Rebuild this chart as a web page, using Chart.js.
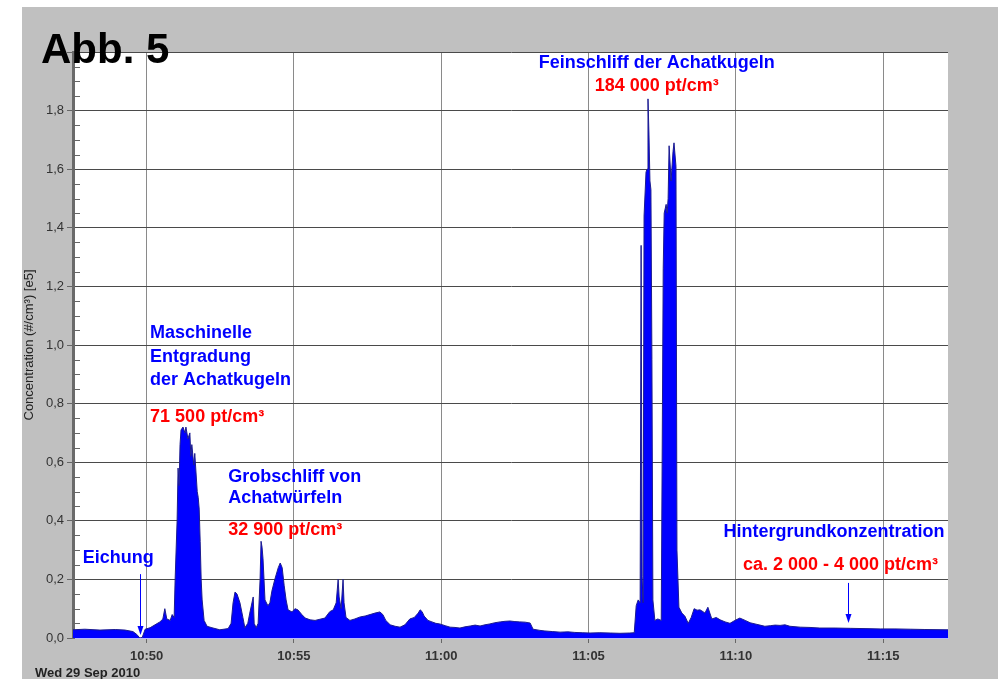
<!DOCTYPE html>
<html>
<head>
<meta charset="utf-8">
<script src="https://cdn.jsdelivr.net/npm/chart.js@4/dist/chart.umd.min.js"></script>
<style>
html, body { margin: 0; padding: 0; background: #fff; }
</style>
</head>
<body>
<canvas id="chart" width="998" height="679"></canvas>
<script>
// recording starts at 10:47:30, offsets in seconds
const startTime = "10:47:30";

const offsets = [
  0, 24, 55, 86, 106, 122, 130, 136, 141, 147, 157, 167, 177, 183, 187, 191, 198, 202, 206, 208,
  212, 214, 216, 218, 220, 224, 228, 230, 234, 238, 240, 242, 246, 248, 253, 255, 257, 259, 261, 263,
  267, 273, 283, 299, 316, 322, 326, 330, 334, 340, 346, 350, 356, 360, 367, 369, 373, 377, 381, 383,
  385, 387, 391, 397, 401, 405, 411, 418, 422, 426, 430, 434, 438, 446, 452, 458, 466, 473, 483, 493,
  503, 513, 523, 530, 536, 540, 542, 546, 550, 552, 556, 564, 574, 585, 595, 605, 615, 625, 631, 637,
  646, 656, 666, 676, 686, 695, 703, 707, 711, 715, 723, 731, 739, 747, 758, 768, 778, 788, 798, 809,
  819, 829, 839, 849, 859, 870, 880, 890, 900, 910, 921, 931, 937, 951, 961, 976, 992, 1008, 1022, 1037,
  1053, 1073, 1094, 1114, 1134, 1143, 1147, 1151, 1155, 1157, 1159, 1161, 1163, 1167, 1169, 1171, 1173, 1175, 1177, 1179,
  1181, 1185, 1191, 1198, 1202, 1204, 1208, 1210, 1212, 1214, 1218, 1222, 1224, 1228, 1230, 1234, 1240, 1246, 1253, 1259,
  1265, 1271, 1277, 1283, 1287, 1293, 1297, 1301, 1310, 1318, 1328, 1338, 1348, 1358, 1369, 1379, 1389, 1399, 1409, 1420,
  1430, 1440, 1450, 1460, 1481, 1501, 1521, 1552, 1583, 1613, 1644, 1674, 1705, 1735, 1782
];

// concentration in 1e5 particles per cm3
const conc = [
  0.028, 0.030, 0.027, 0.029, 0.027, 0.022, 0.012, 0.000, 0.002, 0.030, 0.035, 0.045, 0.055, 0.065, 0.100, 0.065, 0.060, 0.080, 0.070, 0.200,
  0.400, 0.580, 0.520, 0.660, 0.710, 0.720, 0.700, 0.720, 0.680, 0.700, 0.620, 0.660, 0.590, 0.630, 0.500, 0.480, 0.440, 0.330, 0.200, 0.130,
  0.060, 0.040, 0.035, 0.028, 0.032, 0.050, 0.120, 0.157, 0.150, 0.120, 0.070, 0.035, 0.050, 0.085, 0.140, 0.050, 0.035, 0.050, 0.200, 0.330,
  0.310, 0.270, 0.130, 0.110, 0.120, 0.160, 0.200, 0.240, 0.256, 0.240, 0.180, 0.130, 0.096, 0.089, 0.100, 0.096, 0.080, 0.068, 0.062, 0.060,
  0.064, 0.068, 0.090, 0.096, 0.120, 0.200, 0.140, 0.100, 0.200, 0.120, 0.070, 0.060, 0.065, 0.072, 0.075, 0.080, 0.085, 0.089, 0.080, 0.060,
  0.045, 0.040, 0.037, 0.045, 0.065, 0.070, 0.085, 0.096, 0.090, 0.075, 0.060, 0.055, 0.050, 0.048, 0.042, 0.037, 0.036, 0.034, 0.038, 0.041,
  0.044, 0.041, 0.045, 0.048, 0.052, 0.055, 0.057, 0.058, 0.056, 0.055, 0.054, 0.051, 0.030, 0.026, 0.024, 0.022, 0.020, 0.021, 0.019, 0.018,
  0.017, 0.018, 0.017, 0.016, 0.017, 0.018, 0.110, 0.130, 0.120, 1.340, 0.210, 0.120, 1.440, 1.590, 1.600, 1.840, 1.720, 1.560, 1.530, 0.950,
  0.130, 0.060, 0.065, 0.060, 1.260, 1.450, 1.480, 1.450, 1.500, 1.680, 1.560, 1.660, 1.690, 1.610, 0.300, 0.105, 0.085, 0.075, 0.050, 0.070,
  0.100, 0.095, 0.096, 0.090, 0.085, 0.105, 0.085, 0.065, 0.070, 0.062, 0.055, 0.050, 0.060, 0.068, 0.060, 0.052, 0.048, 0.044, 0.040, 0.042,
  0.044, 0.043, 0.045, 0.040, 0.037, 0.036, 0.034, 0.034, 0.033, 0.032, 0.031, 0.031, 0.030, 0.029, 0.028
];

const yTicks = [0, 0.2, 0.4, 0.6, 0.8, 1.0, 1.2, 1.4, 1.6, 1.8];

// text notes: t = seconds after start, v = value on the y axis
const notes = [
  { text: "Feinschliff der Achatkugeln", t: 1189, v: 1.962, color: "#0000ff", align: "center" },
  { text: "184 000 pt/cm³", t: 1189, v: 1.885, color: "#ff0000", align: "center" },
  { text: "Maschinelle", t: 157, v: 1.041, color: "#0000ff", align: "left" },
  { text: "Entgradung", t: 157, v: 0.959, color: "#0000ff", align: "left" },
  { text: "der Achatkugeln", t: 157, v: 0.881, color: "#0000ff", align: "left" },
  { text: "71 500 pt/cm³", t: 157, v: 0.754, color: "#ff0000", align: "left" },
  { text: "Grobschliff von", t: 316, v: 0.549, color: "#0000ff", align: "left" },
  { text: "Achatwürfeln", t: 316, v: 0.478, color: "#0000ff", align: "left" },
  { text: "32 900 pt/cm³", t: 316, v: 0.369, color: "#ff0000", align: "left" },
  { text: "Eichung", t: 20, v: 0.273, color: "#0000ff", align: "left" },
  { text: "Hintergrundkonzentration", t: 1550, v: 0.362, color: "#0000ff", align: "center" },
  { text: "ca. 2 000 - 4 000 pt/cm³", t: 1563, v: 0.249, color: "#ff0000", align: "center" }
];

const arrows = [
  { t: 136, from: 0.218, to: 0.010 },
  { t: 1578, from: 0.188, to: 0.051 }
];

const FONT = "'Liberation Sans', Arial, sans-serif";

function toSec(s) {
  const p = s.split(":").map(Number);
  return p[0] * 3600 + p[1] * 60 + p[2];
}
const startSec = toSec(startTime);

function hhmm(sec) {
  const h = Math.floor(sec / 3600);
  const m = Math.round((sec - h * 3600) / 60);
  return h + ":" + String(m).padStart(2, "0");
}

const decorations = {
  id: "decorations",
  beforeDraw(chart) {
    const ctx = chart.ctx, a = chart.chartArea;
    ctx.save();
    ctx.fillStyle = "#ffffff";
    ctx.fillRect(0, 0, chart.width, chart.height);
    ctx.fillStyle = "#c0c0c0";
    ctx.fillRect(22, 7, chart.width - 22, chart.height - 7);
    ctx.fillStyle = "#ffffff";
    ctx.fillRect(a.left, a.top, a.right - a.left, a.bottom - a.top);
    ctx.restore();
  },
  afterDraw(chart) {
    const ctx = chart.ctx, a = chart.chartArea;
    const xs = chart.scales.x, ys = chart.scales.y;
    ctx.save();

    // minor ticks inside the left edge
    ctx.strokeStyle = "#666";
    ctx.lineWidth = 1;
    for (let k = 1; k < 40; k++) {
      if (k % 4 === 0) continue;
      const py = Math.round(ys.getPixelForValue(k * 0.05)) + 0.5;
      ctx.beginPath();
      ctx.moveTo(a.left, py);
      ctx.lineTo(a.left + 7, py);
      ctx.stroke();
    }

    // notes
    ctx.font = "bold 18px " + FONT;
    ctx.textBaseline = "middle";
    notes.forEach(n => {
      ctx.fillStyle = n.color;
      ctx.textAlign = n.align;
      ctx.fillText(n.text, xs.getPixelForValue(startSec + n.t), ys.getPixelForValue(n.v));
    });

    // arrows
    ctx.strokeStyle = "#0000ff";
    ctx.fillStyle = "#0000ff";
    arrows.forEach(ar => {
      const px = Math.round(xs.getPixelForValue(startSec + ar.t)) + 0.5;
      const y0 = ys.getPixelForValue(ar.from), y1 = ys.getPixelForValue(ar.to);
      ctx.beginPath();
      ctx.moveTo(px, y0);
      ctx.lineTo(px, y1 - 6);
      ctx.stroke();
      ctx.beginPath();
      ctx.moveTo(px - 3, y1 - 9);
      ctx.lineTo(px + 3, y1 - 9);
      ctx.lineTo(px, y1);
      ctx.closePath();
      ctx.fill();
    });

    // figure label and date
    ctx.fillStyle = "#000";
    ctx.textAlign = "left";
    ctx.textBaseline = "alphabetic";
    ctx.font = "bold 42px " + FONT;
    ctx.fillText("Abb. 5", 41, 63);
    ctx.fillStyle = "#222";
    ctx.font = "bold 13px " + FONT;
    ctx.fillText("Wed 29 Sep 2010", 35, 677);
    ctx.restore();
  }
};

new Chart(document.getElementById("chart"), {
  type: "line",
  data: {
    datasets: [{
      data: offsets.map((o, i) => ({ x: startSec + o, y: conc[i] })),
      borderColor: "#1c1c90",
      borderWidth: 1,
      backgroundColor: "#0000ff",
      fill: "origin",
      pointRadius: 0,
      tension: 0
    }]
  },
  options: {
    responsive: false,
    animation: false,
    layout: { padding: { left: 20, top: 52, right: 50, bottom: 0 } },
    plugins: { legend: { display: false }, tooltip: { enabled: false } },
    scales: {
      x: {
        type: "linear",
        min: startSec,
        max: startSec + 1782,
        afterFit: s => { s.height = 41; },
        afterBuildTicks: s => {
          s.ticks = [];
          for (let v = 39000; v < s.max; v += 300) s.ticks.push({ value: v });
        },
        ticks: {
          autoSkip: false, maxRotation: 0, padding: 6,
          color: "#333",
          font: { family: FONT, size: 13, weight: "bold" },
          callback: v => hhmm(v)
        },
        grid: { color: "#8a8a8a", lineWidth: 1, tickLength: 5, tickColor: "#666" },
        border: { color: "#b8b8ff", width: 1 }
      },
      y: {
        min: 0,
        max: 2,
        afterFit: s => { s.width = 53; },
        afterBuildTicks: s => { s.ticks = yTicks.concat([2]).map(v => ({ value: v })); },
        ticks: {
          padding: 3,
          color: "#333",
          font: { family: FONT, size: 13 },
          callback: v => v > 1.9 ? "" : v.toFixed(1).replace(".", ",")
        },
        grid: { color: "#4a4a4a", lineWidth: 1, tickLength: 6, tickColor: "#666" },
        border: { color: "#6a6a6a", width: 3 },
        title: {
          display: true,
          text: "Concentration (#/cm³) [e5]",
          color: "#222",
          font: { family: FONT, size: 13 },
          padding: { top: 2, bottom: 0 }
        }
      }
    }
  },
  plugins: [decorations]
});
</script>
</body>
</html>
